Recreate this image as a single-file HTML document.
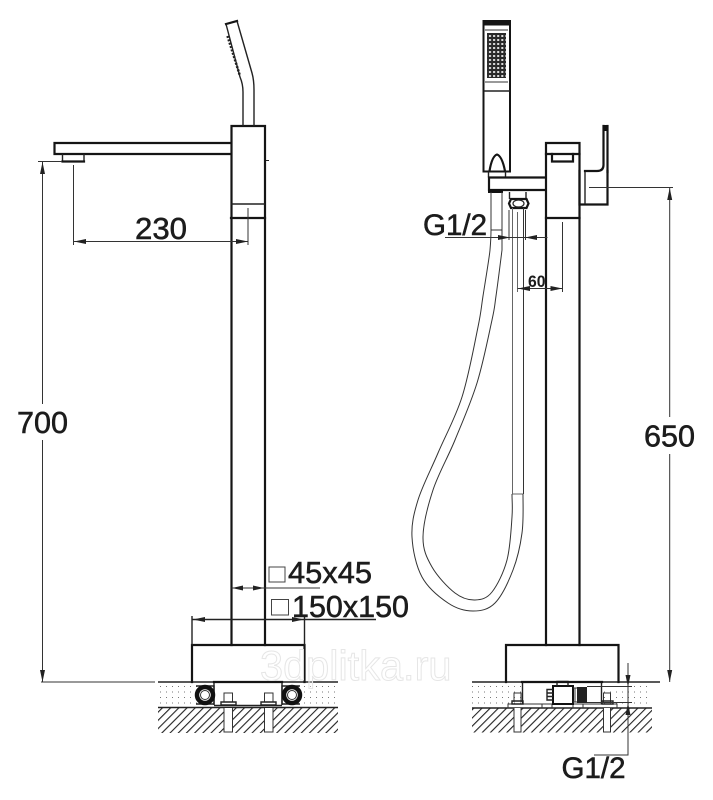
<!DOCTYPE html>
<html><head><meta charset="utf-8"><style>
html,body{margin:0;padding:0;background:#fff;width:713px;height:800px;overflow:hidden}
svg{display:block}
text{font-family:"Liberation Sans",sans-serif;fill:#1c1c1c;stroke:#1c1c1c;stroke-width:.55}
.t{stroke:#151515;stroke-width:2.2;fill:none;stroke-linecap:square}
.m{stroke:#222;stroke-width:1.4;fill:none}
.n{stroke:#333;stroke-width:1;fill:none}
.a{fill:#222;stroke:none}
</style></head><body>
<svg width="713" height="800" viewBox="0 0 713 800" xmlns="http://www.w3.org/2000/svg">
<defs>
<pattern id="h" width="5.8" height="5.8" patternUnits="userSpaceOnUse" patternTransform="rotate(45)">
<rect width="1.1" height="5.8" fill="#222"/></pattern>
<pattern id="d" width="6" height="5.5" patternUnits="userSpaceOnUse" x="158" y="684">
<rect x="2" y="2" width="1" height="1" fill="#777"/></pattern>
<pattern id="g" width="4.1" height="4" patternUnits="userSpaceOnUse" x="488" y="34">
<rect x="1" y="1" width="2" height="2" fill="#ddd"/></pattern>
</defs>

<!-- LEFT VIEW -->
<!-- ground -->
<rect x="158" y="683" width="180" height="24" fill="url(#d)"/>
<rect x="158" y="708" width="180" height="25" fill="url(#h)"/>
<path class="n" d="M41 682H155"/>
<path class="m" d="M158 682H338M158 707.500H338"/>
<rect x="214" y="682" width="68" height="23" fill="#fff"/>
<rect x="224" y="708" width="8.500" height="25" fill="#fff"/><rect x="264.500" y="708" width="8.500" height="25" fill="#fff"/>
<path class="m" d="M214 683V705M282 683V705"/>
<path class="n" d="M224 708V732H232.500V708M264.500 708V732H273V708"/>
<path class="n" d="M224 702V693H232.500V702M264.500 702V693H273V702"/>
<path class="m" d="M221 702H236V705H221ZM261 702H276V705H261Z"/>
<path class="m" d="M214 705.500H282" />
<!-- rollers -->
<path class="m" d="M196 686H214V704H196M300 686H282V704H300" />
<circle cx="205" cy="695" r="8" fill="#fff" stroke="#111" stroke-width="4.500"/>
<circle cx="292" cy="695" r="8" fill="#fff" stroke="#111" stroke-width="4.500"/>
<circle cx="205" cy="695" r="4.500" fill="#fff" stroke="#333" stroke-width="1"/>
<circle cx="292" cy="695" r="4.500" fill="#fff" stroke="#333" stroke-width="1"/>
<!-- base -->
<path class="t" d="M192 682V645H304.500V682"/>
<path class="t" stroke-width="2.800" d="M214 682H282"/>
<!-- column -->
<path class="t" d="M231.500 645V126H265V645"/>
<path class="m" stroke-width="1.600" d="M231 204H265"/>
<path class="t" d="M231 218H265"/>
<!-- spout -->
<path class="t" d="M231 143H54.500V154H231"/>
<path class="m" d="M62.500 154V161.500H84V154"/>
<path class="t" d="M62.500 161.500H84"/>
<!-- handle -->
<path class="t" d="M226 24L237 21"/>
<path class="m" stroke-width="1.800" d="M226 24L240 77Q243 84 243 92V126"/>
<path class="m" stroke-width="1.800" d="M237 21L252 73Q254 80 254 90V126"/>
<path stroke="#222" stroke-width="2.500" stroke-dasharray="2 1.500" fill="none" d="M227.500 36L240 76"/>
<!-- dims left -->
<path class="n" d="M38 161.500H62M42.500 162V404M42.500 440V682"/>
<path class="a" d="M42.500 162l-2.500 12h5zM42.500 682l-2.500-12h5z"/>
<path class="n" d="M73.500 165V245M248 208V245M73.500 241.500H248"/>
<path class="a" d="M74 241.500l12-2.500v5zM248 241.500l-12-2.500v5z"/>
<path class="a" d="M266 160h3v1h-3z"/>
<text x="135" y="239" font-size="31" textLength="52" lengthAdjust="spacingAndGlyphs">230</text>
<text x="17" y="433" font-size="31" textLength="51" lengthAdjust="spacingAndGlyphs">700</text>
<path class="n" d="M231.500 588H320"/>
<path class="a" d="M232 588l11-2.500v5zM264 588l-11-2.500v5z"/>
<rect x="269" y="567" width="16" height="15" fill="#fff" stroke="#444" stroke-width="1"/>
<text x="288" y="583" font-size="30.500" textLength="84" lengthAdjust="spacingAndGlyphs">45x45</text>
<path class="m" stroke-width="1.200" d="M192 619.500H376M192 616V645M304.500 616V645"/>
<path class="a" d="M193 619.500l12-2.500v5zM304 619.500l-12-2.500v5z"/>
<rect x="271.500" y="599.500" width="17" height="15.500" fill="#fff" stroke="#444" stroke-width="1"/>
<text x="292" y="617" font-size="30.500" textLength="117" lengthAdjust="spacingAndGlyphs">150x150</text>

<!-- RIGHT VIEW -->
<path class="m" d="M472 682H660"/>
<rect x="472" y="683" width="50" height="24" fill="url(#d)"/>
<rect x="602" y="683" width="50" height="24" fill="url(#d)"/>
<rect x="472" y="708" width="180" height="24.500" fill="url(#h)"/>
<path class="m" d="M472 708H652"/>
<rect x="514" y="708" width="7" height="24" fill="#fff"/><rect x="603.500" y="708" width="7" height="24" fill="#fff"/>
<path class="n" d="M514 708V732H521V708M603.500 708V732H610.500V708"/>
<path class="n" d="M514 702V693H521V702M603.500 702V693H610.500V702"/>
<path class="n" d="M508 708V704H522M617 708V704H602M522 704H602"/>
<path class="m" d="M512 701H523V704H512ZM602 701H613V704H602Z"/>
<path class="m" d="M522.500 682V704M601.500 682V704"/>
<path class="n" d="M542 708V704M552 708V704M573 708V704M583 708V704"/>
<!-- valve -->
<rect x="553" y="686" width="20" height="18" fill="#fff" stroke="#111" stroke-width="2"/>
<path class="m" d="M553 689.500H547V700H553M547 693H553M547 696.500H553"/>
<path class="m" d="M557 686V681.500H568V686"/>
<path class="n" d="M573 688H577M573 702H577M575 688V702"/>
<rect x="577" y="687" width="10" height="16" fill="#222"/>
<path class="n" d="M587 686.500H632M587 702.500H632"/>
<!-- base -->
<path class="t" d="M506 682V645H618.500V682"/>
<path class="t" d="M522 682H602"/>
<!-- column -->
<path class="t" d="M546 645V143H579.500V645"/>
<path class="t" d="M546 154H579.500M546 218H579.500"/>
<path class="t" stroke-width="1.600" d="M552 154V161.500H573V154"/>
<!-- lever -->
<path class="t" d="M579.500 171V204.500H607.500V171"/>
<path class="m" d="M585 171V204"/>
<path class="t" stroke-width="1.800" d="M585 171H597Q603.500 171 603.500 165V126"/>
<path class="t" stroke-width="1.800" d="M607.500 126V172"/>
<path d="M603.500 125h4v6h-4z" fill="#111"/>
<!-- handset -->
<rect x="483.500" y="21" width="26.500" height="150.500" fill="#fff" stroke="#151515" stroke-width="2"/>
<rect x="483.500" y="21" width="26.500" height="4.500" fill="#151515"/>
<path class="n" d="M485 30H508M485 82H508"/>
<path class="m" d="M484 91H510"/>
<rect x="487" y="33" width="19" height="45" fill="#2a2a2a"/>
<rect x="487" y="33" width="19" height="45" fill="url(#g)"/>
<path class="t" stroke-width="2" d="M489.500 171Q492 156 497 154.500Q502 156 505 171"/>
<!-- arm -->
<path class="m" d="M488.500 171.500V177.500M505.500 171.500V177.500"/>
<path class="t" d="M545 177.500H489V190H545"/>
<path d="M488 189h15v4h-15z" fill="#111"/>
<!-- nut -->
<path class="m" d="M509.500 192V199M526 192V199"/>
<path class="t" stroke-width="1.700" d="M511 199H526.500L528.500 203.500L526.500 208H511L509 203.500Z"/>
<ellipse cx="518.500" cy="203.500" rx="5.500" ry="3.500" fill="none" stroke="#222" stroke-width="1.200"/>
<path class="n" stroke="#666" style="stroke:#666" d="M512.500 208V494H523.500M517.500 212V292"/>
<path class="n" d="M523.500 208V494"/>
<!-- hose -->
<path class="n" d="M491 192V230C491 237 490.600 243 490 250S485 283.200 483 296S481.500 310.200 478 327S468.700 376 462 397S445.300 435.800 438 453S422.300 486 418 500S411.300 524.200 412 537S416 566 422 577S439.500 597.300 448 603S465.200 611 473 611S488.300 609.800 495 603S508.500 581.700 513 570S520.300 545.700 522 533S523 507 523 494"/>
<path class="n" d="M502 192V250S497.700 284.300 496 296S495.200 305.500 492 320S483.200 363 477 383S462.300 422.200 455 440S438.300 473.800 433 490S423.200 524.200 423 537S426.700 557.700 432 567S447.800 587.500 455 593S468.800 600.200 475 600S486.700 598.700 492 592S503.700 572.500 507 560S511.200 528 512 517S512 502 512 494"/>
<path class="n" d="M491 230H502"/>
<!-- dims right -->
<path class="n" d="M445 237.500H547.500M509 210V240M525.500 210V240"/>
<path class="a" d="M510 237.500l-12-2.500v5zM525 237.500l12-2.500v5z"/>
<text x="423" y="235" font-size="30" textLength="64" lengthAdjust="spacingAndGlyphs">G1/2</text>
<path class="n" d="M517.500 288.500H562.500M562.500 222V292"/>
<path class="a" d="M518 288.500l12-2.500v5zM562.500 288.500l-12-2.500v5z"/>
<text x="528" y="287" font-size="16.500" font-weight="bold" style="stroke-width:0" textLength="17.500" lengthAdjust="spacingAndGlyphs">60</text>
<path class="n" d="M589 187.500H673M669.700 188V417M669.700 454V682"/>
<path class="a" d="M669.700 188l-2.500 12h5zM669.700 682l-2.500-12h5z"/>
<text x="644" y="446.500" font-size="31" textLength="51" lengthAdjust="spacingAndGlyphs">650</text>
<path class="n" stroke="#444" d="M628 663V755H594"/>
<path class="a" d="M628 687l-2.500-12h5zM628 703l-2.500 12h5z"/>
<text x="561.500" y="778" font-size="30" textLength="64" lengthAdjust="spacingAndGlyphs">G1/2</text>

<!-- watermark -->
<text x="260" y="680" font-size="41.500" style="fill:#fff;fill-opacity:.35;stroke:#e6e6e6;stroke-width:1">3dplitka.ru</text>
</svg>
</body></html>
